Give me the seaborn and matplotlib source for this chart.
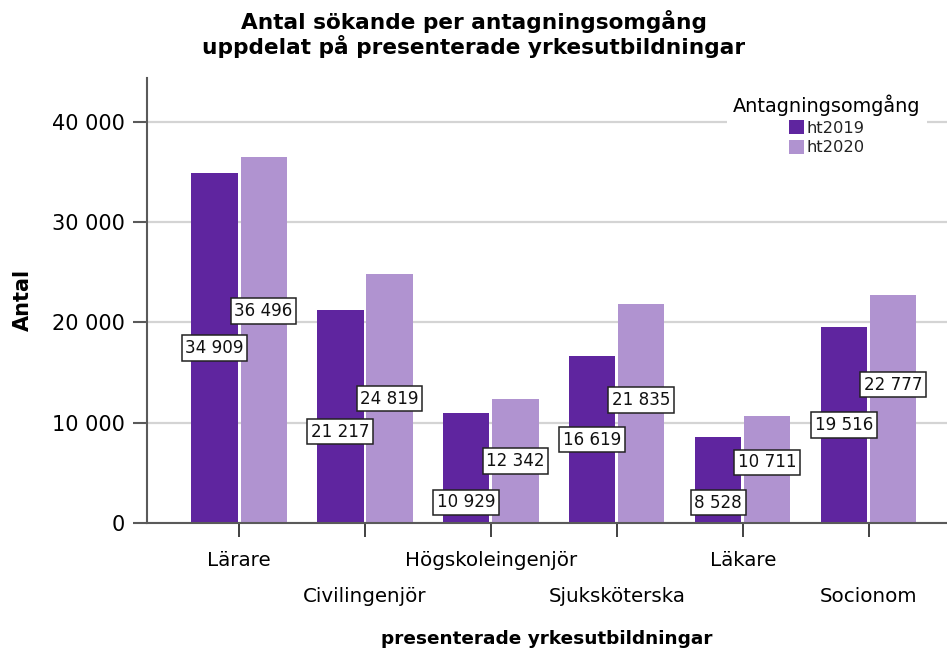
import matplotlib
matplotlib.use("Agg")
import matplotlib.pyplot as plt
import seaborn as sns
import pandas as pd

# ---- data ----
categories = ["Lärare", "Civilingenjör", "Högskoleingenjör", "Sjuksköterska", "Läkare", "Socionom"]
rounds = ["ht2019", "ht2020"]
ht2019 = [34909, 21217, 10929, 16619, 8528, 19516]
ht2020 = [36496, 24819, 12342, 21835, 10711, 22777]
y_ticks = [0, 10000, 20000, 30000, 40000]

title = "Antal sökande per antagningsomgång\nuppdelat på presenterade yrkesutbildningar"
x_title = "presenterade yrkesutbildningar"
y_title = "Antal"
legend_title = "Antagningsomgång"

# label placement offsets (data units, relative to bar mid-height) to avoid overlaps
label_shift = {
    "ht2019": [0, -1500, -3420, 0, -2220, 0],
    "ht2020": [2890, 0, 0, 1345, 680, 2420],
}

colors = ["#5F259F", "#B093D0"]

df = pd.DataFrame({
    "yrke": categories * 2,
    "omgang": [rounds[0]] * len(categories) + [rounds[1]] * len(categories),
    "antal": ht2019 + ht2020,
})

sns.set_theme(style="white")
plt.rcParams["font.family"] = ["DejaVu Sans"]
plt.rcParams["text.color"] = "black"

dpi = 100
fig = plt.figure(figsize=(9.47, 6.52), dpi=dpi)
ax = fig.add_axes([147 / 947, 1 - 523 / 652, 1 - 147 / 947, (523 - 78) / 652])

sns.barplot(data=df, x="yrke", y="antal", hue="omgang", palette=colors,
            width=0.78, gap=0.06, saturation=1, linewidth=0, errorbar=None, ax=ax)

ax.set_xlim(-0.731, 5.622)
ax.set_ylim(0, 44370)

# grid & spines
ax.set_axisbelow(True)
ax.yaxis.grid(True, color="#d4d4d4", linewidth=1.6)
ax.xaxis.grid(False)
for s in ["top", "right"]:
    ax.spines[s].set_visible(False)
for s in ["left", "bottom"]:
    ax.spines[s].set_color("#5a5a5a")
    ax.spines[s].set_linewidth(1.5)

# y ticks
ax.set_yticks(y_ticks)
ax.set_yticklabels([f"{v:,}".replace(",", " ") for v in y_ticks])
ax.tick_params(axis="y", direction="out", length=10, width=1.5, color="#5a5a5a",
               pad=5.8, labelsize=15, labelcolor="black", left=True)

# x ticks with alternating rows
ax.set_xticks(range(len(categories)))
ax.set_xticklabels(categories)
ax.tick_params(axis="x", direction="out", length=10, width=1.3, color="#333333",
               pad=10, labelsize=14.3, labelcolor="black", bottom=True)
for i, t in enumerate(ax.xaxis.get_major_ticks()):
    if i % 2 == 1:
        t.tick1line.set_markersize(36)
        t.set_pad(10 + 26)

ax.set_xlabel("")
ax.set_ylabel("")

# value labels
for cont, r in zip(ax.containers, rounds):
    for bar, sh in zip(cont, label_shift[r]):
        h = bar.get_height()
        ax.text(bar.get_x() + bar.get_width() / 2, h / 2 + sh,
                f"{int(round(h)):,}".replace(",", " "),
                ha="center", va="center", fontsize=12.1, color="#111111",
                bbox=dict(boxstyle="square,pad=0.22", fc="white", ec="#222222", lw=1.1),
                zorder=5)

# legend
handles, labels = ax.get_legend_handles_labels()
leg = ax.legend(handles, labels, title=legend_title, loc="upper center",
                bbox_to_anchor=(827 / 947, 1 - 88 / 652), bbox_transform=fig.transFigure,
                frameon=True, facecolor="white", edgecolor="none", framealpha=1,
                fontsize=11.7, title_fontsize=13.9, handlelength=0.95, handleheight=0.95,
                handletextpad=0.15, labelspacing=0.25, borderpad=0.4, borderaxespad=0)
leg.set_zorder(10)
leg.get_title().set_color("black")
for t in leg.get_texts():
    t.set_color("#222222")

# titles
fig.text(0.5, 1 - 10 / 652, title, ha="center", va="top", fontsize=15.6,
         fontweight="bold", linespacing=1.08, color="black")
fig.text(547 / 947, 1 - 644 / 652, x_title, ha="center", va="baseline",
         fontsize=13.3, fontweight="bold", color="black")
fig.text(23 / 947, 1 - 300 / 652, y_title, ha="center", va="center", rotation=90,
         fontsize=15, fontweight="bold", color="black")

fig.savefig("out.png", dpi=dpi, facecolor="white")
